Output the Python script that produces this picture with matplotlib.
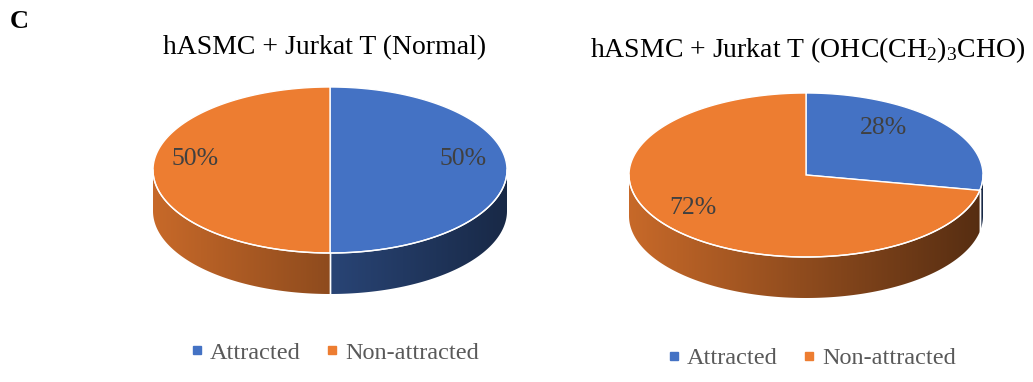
import numpy as np
import matplotlib
matplotlib.use("Agg")
import matplotlib.pyplot as plt
from matplotlib.patches import Polygon
from matplotlib.lines import Line2D
from matplotlib.colors import to_rgb

plt.rcParams['font.family'] = ['Liberation Serif', 'DejaVu Serif']
plt.rcParams['mathtext.fontset'] = 'custom'
plt.rcParams['mathtext.rm'] = 'Liberation Serif'
plt.rcParams['mathtext.it'] = 'Liberation Serif:italic'

# ---- data ----
categories = ["Attracted", "Non-attracted"]
normal_values = [50, 50]
treated_values = [28, 72]
titles = ["hASMC + Jurkat T (Normal)", "hASMC + Jurkat T (OHC(CH$_2$)$_3$CHO)"]
panel_letter = "C"
colors = ["#4472C4", "#ED7D31"]

W, H = 1033, 382
fig = plt.figure(figsize=(W / 100, H / 100), dpi=100)
ax = fig.add_axes([0, 0, 1, 1])
ax.set_xlim(0, W)
ax.set_ylim(H, 0)
ax.axis("off")


def pt(cx, cy, rx, ry, th):
    return cx + rx * np.cos(th), cy - ry * np.sin(th)


def draw_pie(cx, cy, rx, ry, depth, values, kx=0.72, ky=0.72, dx=0, dy=-8):
    total = float(sum(values))
    start = np.pi / 2
    wedges = []
    for v in values:
        end = start - 2 * np.pi * v / total
        wedges.append((start, end))
        start = end
    # side walls (front half)
    for (a0, a1), col in zip(wedges, colors):
        ths = np.linspace(a0, a1, 400)
        s = np.sin(ths)
        mask = s <= 1e-9
        if mask.sum() < 2:
            continue
        idx = np.where(mask)[0]
        runs = np.split(idx, np.where(np.diff(idx) != 1)[0] + 1)
        for run in runs:
            if len(run) < 2:
                continue
            t = ths[run]
            xs, ys = pt(cx, cy, rx, ry, t)
            poly = np.vstack([np.column_stack([xs, ys]),
                              np.column_stack([xs[::-1], ys[::-1] + depth])])
            patch = Polygon(poly, closed=True, facecolor="none", edgecolor="none")
            ax.add_patch(patch)
            base = np.array(to_rgb(col))
            n = 200
            f = np.linspace(0.84, 0.36, n)
            grad = np.clip(base[None, :] * f[:, None], 0, 1)[None, :, :]
            im = ax.imshow(grad, extent=(cx - rx, cx + rx, cy + ry + depth, cy - ry),
                           aspect="auto", interpolation="bilinear", zorder=2)
            im.set_clip_path(patch)
            for tb in (t[0], t[-1]):
                x0, y0 = pt(cx, cy, rx, ry, tb)
                if abs(np.cos(tb)) < 0.999:
                    ax.plot([x0, x0], [y0, y0 + depth], color="white", lw=1.0, zorder=3)
    # top wedges
    for (a0, a1), col, v in zip(wedges, colors, values):
        ths = np.linspace(a0, a1, 400)
        xs, ys = pt(cx, cy, rx, ry, ths)
        poly = np.vstack([[cx, cy], np.column_stack([xs, ys])])
        ax.add_patch(Polygon(poly, closed=True, facecolor=col, edgecolor="white",
                             lw=1.0, zorder=4))
        mid = (a0 + a1) / 2
        lx = cx + kx * rx * np.cos(mid) + dx
        ly = cy - ky * ry * np.sin(mid) + dy
        ax.text(lx, ly, f"{v:.0f}%", ha="center", va="center", fontsize=18.5,
                color="#404040", zorder=6)
    th = np.linspace(np.pi, 2 * np.pi, 300)
    xs, ys = pt(cx, cy, rx, ry, th)
    ax.plot(xs, ys, color="white", lw=1.0, zorder=5)


ax.set_aspect("auto")
draw_pie(330, 170, 177, 83, 41, normal_values, kx=0.757, ky=0.75, dx=-1, dy=-11)
draw_pie(806, 175, 177, 82, 41, treated_values, kx=0.70, ky=0.766, dx=-18, dy=-7)
ax.set_xlim(0, W)
ax.set_ylim(H, 0)

ax.text(10, 28, panel_letter, fontsize=19, fontweight="bold", color="black", va="baseline")
ax.text(325, 54, titles[0], fontsize=20, ha="center", va="baseline", color="black")
ax.text(808, 57, titles[1], fontsize=20, ha="center", va="baseline", color="black")

handles = [Line2D([], [], marker="s", ls="none", color=c, markersize=5.5) for c in colors]
for xc, yc in [(334, 353), (811, 358)]:
    fig.legend(handles, categories, loc="center", ncol=2,
               bbox_to_anchor=(xc / W, 1 - yc / H), frameon=False,
               fontsize=17.5, handlelength=0.6, handletextpad=0.23,
               columnspacing=1.0, labelcolor="#595959")

fig.savefig("out.png", dpi=100, facecolor="white")
